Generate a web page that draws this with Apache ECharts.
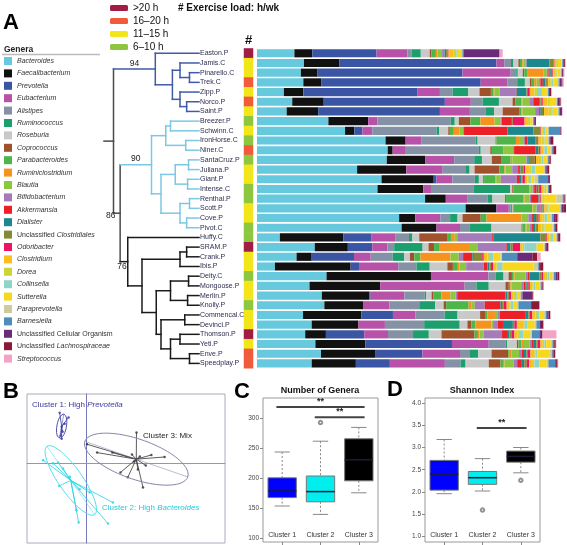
<!DOCTYPE html>
<html><head><meta charset="utf-8">
<script src="https://cdn.jsdelivr.net/npm/echarts@6.0.0/dist/echarts.min.js"></script>
<style>html,body{margin:0;padding:0;background:#fff}#chart{width:567px;height:545px}</style>
</head><body><div id="chart"></div>
<script>
// ---------- DATA ----------
const leaves = ['Easton.P','Jamis.C','Pinarello.C','Trek.C','Zipp.P','Norco.P','Saint.P','Breezer.P','Schwinn.C','IronHorse.C','Niner.C','SantaCruz.P','Juliana.P','Giant.P','Intense.C','Renthal.P','Scott.P','Cove.P','Pivot.C','Huffy.C','SRAM.P','Crank.P','Ibis.P','Deity.C','Mongoose.P','Merlin.P','Knolly.P','Commencal.C','Devinci.P','Thomson.P','Yeti.P','Enve.P','Speedplay.P'];
const leafCluster = [1,1,1,1,1,1,1, 2,2,2,2,2,2,2,2,2,2,2,2, 3,3,3,3,3,3,3,3,3,3,3,3,3,3];
// exercise load class: 1 = 6–10 h, 2 = 11–15 h, 3 = 16–20 h, 4 = >20 h
const exerciseLoad = [4,2,2,3,2,3,2,1,2,1,3,1,2,2,1,1,2,2,1,1,4,2,2,1,2,2,1,2,2,4,2,3,3];
const loadLabels = ['6–10 h','11–15 h','16–20 h','>20 h'];
// dendrogram: [height, left, right, bootstrap support]
const tree = [0.9,
  [0.46, 0, [0.28, [0.2, 1, [0.1, 2, 3]], [0.2, 4, [0.13, 5, 6]]], 94],
  [0.83,
    [0.5, [0.35, [0.3, 7, 8], [0.14, 9, 10]], [0.4, [0.25, [0.11, 11, 12], [0.12, 13, 14]], [0.2, [0.1, 15, 16], [0.13, 17, 18]]], 90],
    [0.75, 19, [0.6, [0.2, [0.13, 20, 21], 22], [0.45, [0.3, [0.11, 23, 24], [0.12, 25, 26]], [0.4, [0.15, 27, 28], [0.3, [0.2, 29, 30], [0.1, 31, 32]]]]], 76],
  86]];
const treeTop = 1.0;

const genera = ['Bacteroides','Faecalibacterium','Prevotella','Eubacterium','Alistipes','Ruminococcus','Roseburia','Coprococcus','Parabacteroides','Ruminiclostridium','Blautia','Bifidobacterium','Akkermansia','Dialister','Unclassified Clostridiales','Odoribacter','Clostridium','Dorea','Collinsella','Sutterella','Paraprevotella','Barnesiella','Unclassified Cellular Organism','Unclassified Lachnospiraceae','Streptococcus'];
// relative abundance (%) per sample, in leaf order
const bacteroides = [12.1,15.2,14.2,15,8.7,11.4,9.6,23.1,28.5,41.6,42.3,42,32.4,40.3,39,54.4,67.5,46,46.8,7.4,18.7,12.8,5.8,22.5,17,21,21.8,14.9,17.7,15.6,18.9,20.7,17.7];
const faecalibacterium = [5.8,11.4,5.4,5.9,6.3,10.2,10.2,12.9,3,6.5,1.6,12.4,15.9,16.9,14.8,6.7,10,5.2,11.3,20.5,10.7,4.9,24.5,33.8,22.9,15.3,12.5,18.9,15.1,6.7,16.2,17.5,14.3];
const prevotella = [20.8,50.9,46.9,51.5,37,39.2,39.4,0,2.6,0,0,0,0,0.9,0,0,0,0,0,9.2,7.9,13.7,2.7,0,0,0.5,0,10.2,0,12.4,28,15.3,11];
const eubacterium = [10,2.5,15.6,8.7,7.2,8.4,9.7,3,3.2,5.2,4,9.4,11.8,5.1,2.5,7.1,4,8.1,7.6,7.6,4.9,5.4,12.7,18.6,27.3,10.9,8.5,7.2,8.6,7.7,11.9,12.2,17.8];
const alistipes = [1.3,2.2,1.8,3.1,4.1,3.8,5.2,23.7,20.8,17.5,23.9,6.5,7.3,7.3,13.9,6.5,0.6,3.2,3.2,4.5,2.2,7.1,5.9,2.4,3.8,6.5,9.7,9.5,12.7,8.1,5.4,3,5.1];
const ruminococcus = [3,0.8,0.5,2.5,5.1,5.3,2.6,1.3,0.8,0.6,0.6,2.5,1.4,1.3,11.7,1.5,0.4,2.4,7,1.1,9.2,3.7,4.3,2.5,4,0.5,5.2,4.2,11.5,5.1,0.5,2.9,1.6];
const roseburia = [2.9,1.6,1.6,1.6,3.6,4.4,2.8,1.3,3,5.8,3.1,3.2,1.6,1.4,0.7,4.1,0.3,1.6,9.7,2.2,1.9,1.9,5.7,1.6,5.4,1.8,2.7,7.3,2.5,4.1,3.2,4.3,7.5];
const coprococcus = [0.5,0.5,0.5,0.6,3.7,1,5.3,3.8,0.5,0.3,0.5,3.2,8.1,0.3,0.3,0.3,0.2,5.9,0.3,9,1.8,1.4,1.8,1.1,1.1,0.5,0.8,1.6,1.3,10.7,0.5,5.4,3.8];
const parabacteroides = [1.5,0.8,0.9,0.8,0.9,1.9,0.8,3.2,1.3,6.3,3.6,2.9,1.6,3.6,5.2,5.7,6,1.9,1,1.5,1.6,2,1.6,0.6,0.5,2.7,7.3,0.8,1.3,1.1,1,0.5,0.8];
const ruminiclostridium = [0.5,0.3,5.4,0.8,0.3,0.3,0.3,4.6,1.9,1,0.3,0.5,0.3,0.3,0.3,0.3,0.2,11.3,0.3,1,9.7,9.7,0.5,0.3,0.3,2.9,1,2.4,5.2,0.5,0.8,0.5,0.5];
const blautia = [1.5,0.8,1,0.8,1.6,2.2,4.1,1.9,1.1,1.6,3,4.6,2.2,1.5,0.8,1.6,1.3,2.2,1,0.8,2.7,2.7,2.2,3.5,3.2,1.7,1,1,0.5,1.4,1.8,2.5,2.9];
const bifidobacterium = [0.8,0.3,0.5,0.4,5.2,1.3,1.3,0.4,0.3,0.3,0.3,0.3,1.9,5.2,0.5,0.5,1.3,1,0.8,11.3,9.4,1.4,5.7,0.8,0.8,0.5,3.2,0.6,1.6,5.9,0.8,0.8,1.2];
const akkermansia = [0,0,0.3,0.8,0.3,1.9,0.4,3,14,0.8,7,0.3,0.3,1,0.8,2.4,0.3,0.5,0.3,0.5,0.5,3,1.2,0.5,0.5,15.6,5.1,8.4,1.6,1.6,0.6,0.8,1.5];
const dialister = [0.5,7.3,0.5,0.8,3.2,0.4,0.5,0.3,8.4,2.7,0.8,0.5,0.5,0.5,0.5,0.3,0.3,1,0.8,15.1,0.8,0.5,0.6,3.2,0.5,0.6,0.5,0.8,3.2,0.8,0.8,0.8,0.8];
const unclClostridiales = [0.5,1.4,0.5,0.5,0.5,0.5,0.4,0.3,2.4,0.5,0.3,1.6,1,0.3,0.3,0.3,0.3,0.8,0.5,1.6,0.8,2.7,0.5,0.8,0.5,0.5,0.5,0.5,0.5,0.8,0.5,0.5,0.8];
const odoribacter = [0.3,0.3,0.3,0.3,0.6,0.3,0.3,3.8,0.2,0.4,0.5,0.4,0.5,0.8,0.8,0.3,0.3,0.4,0.3,0.5,2.4,0.5,0.8,0.5,0.5,0.8,1,0.8,0.8,0.8,0.8,0.8,0.8];
const clostridium = [1.5,0.5,0.8,0.8,1.5,1.5,1.5,0.8,0.5,1,0.8,1.3,1.5,0.8,0.5,0.3,0.5,1,1.2,0.8,0.8,1.2,1,0.8,0.8,0.8,0.8,1,2,1,0.8,1.2,1.2];
const dorea = [1,0.3,0.3,0.5,0.8,0.5,0.8,0.6,0.4,0.5,0.4,0.5,0.6,0.5,0.5,0.3,0.4,0.6,0.5,0.5,0.5,0.8,0.5,0.5,0.4,0.4,0.5,0.5,0.5,0.5,0.5,0.5,0.5];
const collinsella = [0.5,0.3,0.2,0.5,1.6,0.3,0.5,0.4,0.5,0.5,1,0.5,1.2,0.8,0.5,0.3,0.5,0.8,0.5,0.8,4,1,1.5,0.6,0.5,0.6,0.8,0.8,0.8,1.5,0.6,0.6,1.5];
const sutterella = [1,1.2,1,1.2,1.6,2,1.5,0.8,0.6,0.8,1,1.2,2.5,1,0.3,4,3.7,1,2.5,0.8,2.2,2.4,10,1,1.5,1,1.2,1.5,2.5,2.2,1.5,4,2.5];
const paraprevotella = [0.5,0.2,0.3,0.5,0.4,0.3,0.4,0.2,0.4,0.5,0.4,0.3,0.6,1.2,0.3,2,0.2,0.6,0.5,0.4,0.5,0.5,1.5,0.5,0.3,0.4,0.5,0.5,0.5,0.5,0.5,0.6,0.5];
const barnesiella = [0.3,0.3,0.2,0.4,0.3,0.3,0.3,0.3,3.7,0.4,0.3,0.3,0.4,3.2,0.3,0.3,0.3,0.5,0.3,0.3,0.3,4.9,0.3,0.5,0.3,0.4,4.1,0.5,1,2.4,0.3,0.3,2.2];
const unclCellular = [11.7,0.3,0.3,0.5,0.3,0.6,0.5,0.3,0.2,0.3,0.3,0.3,0.3,0.3,0.3,0.3,0.5,0.5,0.3,0.3,0.3,4.9,0.3,0.6,0.3,3.2,0.3,0.5,0.5,0.5,0.3,0.3,0.3];
const unclLachno = [0,0.3,0.2,0.4,0.4,0.3,0.3,0.3,0.2,0.8,0.8,0.4,0.6,0.3,0.5,0.3,1,0.8,0.5,0.4,0.5,1.6,1,0.6,0.3,0.3,2.4,0.5,0.8,0.5,0.5,0.5,0.5];
const streptococcus = [1,0.2,0.3,0.4,0.3,0.2,0.2,0,0.1,0.2,0.1,0.1,0.2,0.1,0.1,0.3,0.2,0.3,0.2,0.2,0.2,1.1,0.2,0.3,0.1,0.1,0.1,0.2,0.2,4.5,0.2,0.2,0.2];
const abundance = [bacteroides,faecalibacterium,prevotella,eubacterium,alistipes,ruminococcus,roseburia,coprococcus,parabacteroides,ruminiclostridium,blautia,bifidobacterium,akkermansia,dialister,unclClostridiales,odoribacter,clostridium,dorea,collinsella,sutterella,paraprevotella,barnesiella,unclCellular,unclLachno,streptococcus];

// Panel B: ordination scores per cluster, spider centres, ellipses [cx, cy, a, b, angle°]
const cluster1Scores = [[-0.135,0.255],[-0.09,0.232],[-0.11,0.2],[-0.125,0.185],[-0.12,0.16],[-0.13,0.14],[-0.125,0.125]];
const cluster2Scores = [[-0.219,0.017],[-0.169,0.002],[-0.143,0.005],[-0.118,-0.025],[-0.084,-0.067],[-0.138,-0.113],[-0.034,-0.129],[0.017,-0.146],[0.134,-0.196],[-0.05,-0.235],[-0.039,-0.297],[0.109,-0.302]];
const cluster3Scores = [[0.003,0.097],[0.054,0.055],[0.131,0.055],[0.328,0.043],[0.395,0.033],[0.172,-0.045],[0.286,-0.121],[0.253,0.156],[0.209,-0.069],[0.24,0.01],[0.27,0.035],[0.23,0.045],[0.3,-0.01],[0.26,-0.03]];
const clusterEllipses = [[-0.125,0.188,0.062,0.024,80],[-0.079,-0.085,0.21,0.06,-55],[0.252,0.022,0.275,0.101,-19]];

// Panels C & D: [min, Q1, median, Q3, max]
const clusterNames = ['Cluster 1','Cluster 2','Cluster 3'];
const generaCountBoxes = [[153,167,178,200,243],[139,160,177,203,261],[175,195,230,265,284]];
const generaCountOutliers = [[1,292]];
const generaCountSig = [[0,2,318,'**'],[1,2,301,'**']];
const generaCountTicks = [100,150,200,250,300];
const shannonBoxes = [[1.96,2.04,2.40,2.71,3.18],[2.02,2.17,2.32,2.46,2.75],[2.43,2.67,2.80,2.92,3.00]];
const shannonOutliers = [[1,1.59],[2,2.26]];
const shannonSig = [[1,2,3.44,'**']];
const shannonTicks = [1.0,1.5,2.0,2.5,3.0,3.5,4.0];

// ---------- STYLE ----------
const FONT = 'Liberation Sans, Arial, Helvetica, sans-serif';
const generaColors = ['#67C9DD','#111111','#3B55A5','#B752A8','#8592A6','#1C9F6C','#C9C9C9','#A0522D','#4DB54A','#F6931E','#8DC63F','#A57BBA','#EC2027','#1A888C','#858A36','#EB1563','#FCC01E','#CDD43A','#8FD4C8','#F8D81C','#CFCB9E','#4F8DBA','#6A2C79','#8B1A3A','#F3A3C6'];
const loadColors = ['#8DC63F','#F2E61B','#F15A3A','#A01D45'];
const treeColors = ['#4a4a4a','#3F5BAA','#7CC8E4','#1a1a1a'];
const bPointColors = ['#3535A5','#22D3E3','#333333'];
const bEllipseColors = ['#5050AA','#55DDEE','#8585AA'];
const boxFill = ['#0000FF','#00EEEE','#000000'];

// ---------- DERIVED GEOMETRY ----------
const treeSegs = [], supports = [];
function lay(node){
  if (typeof node === 'number') return {y: node, h: 0, c: leafCluster[node]};
  const h = node[0], a = lay(node[1]), b = lay(node[2]);
  const c = a.c === b.c ? a.c : 0;
  treeSegs.push([h, a.y, h, b.y, c]);
  treeSegs.push([a.h, a.y, h, a.y, a.c]);
  treeSegs.push([b.h, b.y, h, b.y, b.c]);
  [a, b].forEach(ch => { if (ch.s) supports.push([(ch.h + h) / 2, ch.y, ch.s]); });
  return {y: (a.y + b.y) / 2, h, c, s: node[3]};
}
const rootNode = lay(tree);
treeSegs.push([rootNode.h, rootNode.y, treeTop, rootNode.y, 0]);
const supportOffsets = {94: [0, -5], 90: [0, -6], 86: [-6, 2], 76: [-2, 5]};

function ellipsePoints(p){
  const [cx, cy, a, b, deg] = p, t = deg * Math.PI / 180, pts = [];
  for (let k = 0; k <= 90; k++) {
    const u = k / 90 * 2 * Math.PI, x = a * Math.cos(u), y = b * Math.sin(u);
    pts.push([cx + x * Math.cos(t) - y * Math.sin(t), cy + x * Math.sin(t) + y * Math.cos(t)]);
  }
  return pts;
}
function majorAxis(p){
  const [cx, cy, a, , deg] = p, t = deg * Math.PI / 180;
  return [[cx - a * Math.cos(t), cy - a * Math.sin(t)], [cx + a * Math.cos(t), cy + a * Math.sin(t)]];
}

// ---------- OPTION ----------
const rowTop = 48.45, rowH = 319.8;
const series = [];
series.push({type: 'heatmap', xAxisIndex: 1, yAxisIndex: 2, data: exerciseLoad.map((v, i) => [0, i, v]), silent: true});

series.push({type: 'custom', xAxisIndex: 0, yAxisIndex: 0, silent: true, clip: false,
  encode: {x: [0, 2], y: [1, 3]}, data: treeSegs,
  renderItem(params, api){
    const p1 = api.coord([api.value(0), api.value(1)]), p2 = api.coord([api.value(2), api.value(3)]);
    return {type: 'line', shape: {x1: p1[0], y1: p1[1], x2: p2[0], y2: p2[1]},
      style: {stroke: treeColors[api.value(4)], lineWidth: 1.5, lineCap: 'square'}};
  }});
series.push({type: 'custom', xAxisIndex: 0, yAxisIndex: 0, silent: true, clip: false,
  encode: {x: 0, y: 1}, data: supports.map(s => [s[0], s[1]]),
  renderItem(params, api){
    const s = supports[params.dataIndex], p = api.coord([s[0], s[1]]), off = supportOffsets[s[2]] || [0, -5];
    return {type: 'text', x: p[0] + off[0], y: p[1] + off[1],
      style: {text: String(s[2]), fill: '#222', font: '8.5px ' + FONT, align: 'center', verticalAlign: 'middle'}};
  }});

genera.forEach((g, k) => {
  series.push({type: 'bar', name: g, stack: 'genera', xAxisIndex: 2, yAxisIndex: 3,
    data: abundance[k], barCategoryGap: '16%', itemStyle: {color: generaColors[k]}, silent: true});
});

[cluster1Scores, cluster2Scores, cluster3Scores].forEach((pts, k) => {
  const e = clusterEllipses[k];
  series.push({type: 'line', xAxisIndex: 3, yAxisIndex: 4, data: ellipsePoints(e), symbol: 'none',
    lineStyle: {color: bEllipseColors[k], width: 1}, silent: true});
  series.push({type: 'line', xAxisIndex: 3, yAxisIndex: 4, data: majorAxis(e), symbol: 'none',
    lineStyle: {color: bEllipseColors[k], width: 0.8, opacity: 0.7}, silent: true});
  series.push({type: 'custom', xAxisIndex: 3, yAxisIndex: 4, silent: true,
    encode: {x: [0, 2], y: [1, 3]}, data: pts.map(p => [p[0], p[1], e[0], e[1]]),
    renderItem(params, api){
      const p1 = api.coord([api.value(0), api.value(1)]), p2 = api.coord([api.value(2), api.value(3)]);
      return {type: 'line', shape: {x1: p1[0], y1: p1[1], x2: p2[0], y2: p2[1]},
        style: {stroke: bPointColors[k], lineWidth: 0.8}};
    }});
  series.push({type: 'scatter', xAxisIndex: 3, yAxisIndex: 4, data: pts, symbolSize: 2.5,
    itemStyle: {color: bPointColors[k]}, silent: true});
});

function boxRenderer(params, api){
  const i = api.value(0), band = api.size([1, 0])[0], w = band * 0.74, cw = band * 0.4;
  const cx = api.coord([i, api.value(3)])[0];
  const y = v => api.coord([i, v])[1];
  const yMin = y(api.value(1)), yQ1 = y(api.value(2)), yMed = y(api.value(3)), yQ3 = y(api.value(4)), yMax = y(api.value(5));
  const dash = {stroke: '#888', lineWidth: 1, lineDash: [2, 2]}, solid = {stroke: '#888', lineWidth: 1};
  return {type: 'group', children: [
    {type: 'line', shape: {x1: cx, y1: yMax, x2: cx, y2: yQ3}, style: dash},
    {type: 'line', shape: {x1: cx, y1: yQ1, x2: cx, y2: yMin}, style: dash},
    {type: 'line', shape: {x1: cx - cw / 2, y1: yMax, x2: cx + cw / 2, y2: yMax}, style: solid},
    {type: 'line', shape: {x1: cx - cw / 2, y1: yMin, x2: cx + cw / 2, y2: yMin}, style: solid},
    {type: 'rect', shape: {x: cx - w / 2, y: yQ3, width: w, height: yQ1 - yQ3}, style: {fill: boxFill[i], stroke: '#777', lineWidth: 1}},
    {type: 'line', shape: {x1: cx - w / 2, y1: yMed, x2: cx + w / 2, y2: yMed}, style: {stroke: '#1a1a3a', lineWidth: 1.5}}
  ]};
}
function sigRenderer(list){
  return function(params, api){
    const s = list[params.dataIndex], band = api.size([1, 0])[0];
    const p1 = api.coord([s[0], s[2]]), p2 = api.coord([s[1], s[2]]);
    const x1 = p1[0] - band * 0.15, x2 = p2[0] + band * 0.15;
    return {type: 'group', children: [
      {type: 'line', shape: {x1, y1: p1[1], x2, y2: p1[1]}, style: {stroke: '#444', lineWidth: 2}},
      {type: 'text', x: (x1 + x2) / 2, y: p1[1] - 1, style: {text: s[3], fill: '#222', font: 'bold 9px ' + FONT, align: 'center', verticalAlign: 'bottom'}}
    ]};
  };
}
[[generaCountBoxes, generaCountOutliers, generaCountSig, 4, 5], [shannonBoxes, shannonOutliers, shannonSig, 5, 6]].forEach(([boxes, outl, sig, xi, yi]) => {
  series.push({type: 'custom', xAxisIndex: xi, yAxisIndex: yi, silent: true, encode: {x: 0, y: [1, 2, 3, 4, 5]},
    data: boxes.map((b, i) => [i].concat(b)), renderItem: boxRenderer});
  series.push({type: 'scatter', xAxisIndex: xi, yAxisIndex: yi, data: outl, symbol: 'emptyCircle', symbolSize: 3.5,
    itemStyle: {color: '#777', borderWidth: 0.8}, silent: true});
  series.push({type: 'custom', xAxisIndex: xi, yAxisIndex: yi, silent: true, clip: false, encode: {x: [0, 1], y: 2},
    data: sig.map(s => [s[0], s[1], s[2]]), renderItem: sigRenderer(sig)});
});

const hidden = {show: false};
const clusterXAxis = gi => ({gridIndex: gi, type: 'category', data: clusterNames, boundaryGap: true,
  axisLine: hidden, axisTick: {show: true, alignWithLabel: true, length: 3, lineStyle: {color: '#888'}},
  axisLabel: {inside: true, margin: 3, fontSize: 7, color: '#333', fontFamily: FONT}, splitLine: hidden});

const option = {
  animation: false,
  backgroundColor: '#fff',
  textStyle: {fontFamily: FONT},
  title: [
    {text: 'A', left: 3, top: 12, padding: 0, textStyle: {fontSize: 22, fontWeight: 'bold', color: '#000'}},
    {text: '# Exercise load: h/wk', left: 178, top: 3, padding: 0, textStyle: {fontSize: 10, fontWeight: 'bold', color: '#111'}},
    {text: 'Genera', left: 4, top: 45, padding: 0, textStyle: {fontSize: 8.5, fontWeight: 'bold', color: '#222'}},
    {text: 'B', left: 3, top: 381, padding: 0, textStyle: {fontSize: 22, fontWeight: 'bold', color: '#000'}},
    {text: 'C', left: 234, top: 381, padding: 0, textStyle: {fontSize: 22, fontWeight: 'bold', color: '#000'}},
    {text: 'D', left: 387, top: 379, padding: 0, textStyle: {fontSize: 22, fontWeight: 'bold', color: '#000'}},
    {text: 'Number of Genera', left: 320, textAlign: 'center', top: 386, padding: 0, textStyle: {fontSize: 9, fontWeight: 'bold', color: '#111'}},
    {text: 'Shannon Index', left: 482, textAlign: 'center', top: 386, padding: 0, textStyle: {fontSize: 9, fontWeight: 'bold', color: '#111'}}
  ],
  legend: {
    data: genera, orient: 'vertical', left: 4, top: 57, padding: 0, itemWidth: 8, itemHeight: 8, itemGap: 4.4,
    icon: 'rect', selectedMode: false,
    textStyle: {fontSize: 7, color: '#333', lineHeight: 8,
      rich: {n: {fontSize: 7, fontStyle: 'normal', color: '#333', lineHeight: 8}, i: {fontSize: 7, fontStyle: 'italic', color: '#333', lineHeight: 8}}},
    formatter: name => {
      if (name === 'Unclassified Cellular Organism') return '{n|' + name + '}';
      if (name.indexOf('Unclassified ') === 0) return '{n|Unclassified }{i|' + name.slice(13) + '}';
      return '{i|' + name + '}';
    }
  },
  visualMap: {
    type: 'piecewise', seriesIndex: 0, dimension: 2, orient: 'vertical', left: 110, top: 3, padding: 0,
    itemWidth: 18, itemHeight: 6, itemGap: 3, itemSymbol: 'roundRect', textGap: 5, selectedMode: false,
    textStyle: {fontSize: 10, color: '#111', lineHeight: 6},
    pieces: loadLabels.map((l, i) => ({value: i + 1, label: l, color: loadColors[i]}))
  },
  graphic: [
    {type: 'line', shape: {x1: 2, y1: 54.5, x2: 100, y2: 54.5}, style: {stroke: '#bbb', lineWidth: 1.5}, silent: true},
    {type: 'text', left: 32, top: 401, silent: true, style: {text: '{n|Cluster 1: High }{i|Prevotella}',
      rich: {n: {fontSize: 8, fill: '#3A3AA0', fontFamily: FONT}, i: {fontSize: 8, fontStyle: 'italic', fill: '#3A3AA0', fontFamily: FONT}}}},
    {type: 'text', left: 143, top: 432, silent: true, style: {text: 'Cluster 3: Mix', fontSize: 8, fill: '#222', fontFamily: FONT}},
    {type: 'text', left: 102, top: 504, silent: true, style: {text: '{n|Cluster 2: High }{i|Bacteroides}',
      rich: {n: {fontSize: 8, fill: '#22CCDD', fontFamily: FONT}, i: {fontSize: 8, fontStyle: 'italic', fill: '#22CCDD', fontFamily: FONT}}}}
  ],
  grid: [
    {left: 104, top: rowTop, width: 95, height: rowH, outerBoundsMode: 'none'},
    {left: 244, top: rowTop, width: 9, height: rowH, outerBoundsMode: 'none'},
    {left: 257, top: rowTop, width: 309, height: rowH, outerBoundsMode: 'none'},
    {left: 27, top: 394, width: 198, height: 149, show: true, borderColor: '#aab', borderWidth: 1, outerBoundsMode: 'none'},
    {left: 263, top: 398, width: 115, height: 144, show: true, borderColor: '#999', borderWidth: 1, outerBoundsMode: 'none'},
    {left: 425, top: 398, width: 115, height: 144, show: true, borderColor: '#999', borderWidth: 1, outerBoundsMode: 'none'}
  ],
  xAxis: [
    {gridIndex: 0, type: 'value', min: 0, max: treeTop, inverse: true, show: false},
    {gridIndex: 1, type: 'category', data: ['#'], position: 'top', axisLine: hidden, axisTick: hidden,
      axisLabel: {fontSize: 13, fontWeight: 'bold', color: '#111', margin: 2}, splitLine: hidden},
    {gridIndex: 2, type: 'value', min: 0, max: 100, show: false},
    {gridIndex: 3, type: 'value', min: -0.3, max: 0.7, axisLine: {onZero: true, lineStyle: {color: '#999', width: 1}},
      axisTick: hidden, axisLabel: hidden, splitLine: hidden},
    clusterXAxis(4),
    clusterXAxis(5)
  ],
  yAxis: [
    {gridIndex: 0, type: 'value', min: -0.5, max: leaves.length - 0.5, inverse: true, show: false},
    {gridIndex: 0, type: 'category', data: leaves, inverse: true, position: 'right', axisLine: hidden, axisTick: hidden,
      axisLabel: {fontSize: 7, color: '#2d2d50', margin: 1, interval: 0}, splitLine: hidden},
    {gridIndex: 1, type: 'category', data: leaves, inverse: true, show: false},
    {gridIndex: 2, type: 'category', data: leaves, inverse: true, show: false},
    {gridIndex: 3, type: 'value', min: -0.4, max: 0.35, axisLine: {onZero: true, lineStyle: {color: '#7777BB', width: 1}},
      axisTick: hidden, axisLabel: hidden, splitLine: hidden},
    {gridIndex: 4, type: 'value', min: 93, max: 333, axisLine: hidden, splitLine: hidden,
      axisTick: {show: true, length: 3, customValues: generaCountTicks, lineStyle: {color: '#888'}},
      axisLabel: {fontSize: 6.5, color: '#444', margin: 4, customValues: generaCountTicks}},
    {gridIndex: 5, type: 'value', min: 0.872, max: 4.115, axisLine: hidden, splitLine: hidden,
      axisTick: {show: true, length: 3, customValues: shannonTicks, lineStyle: {color: '#888'}},
      axisLabel: {fontSize: 6.5, color: '#444', margin: 4, customValues: shannonTicks, formatter: v => v.toFixed(1)}}
  ],
  series
};
const chart = echarts.init(document.getElementById('chart'), null, {renderer: 'canvas'});
chart.setOption(option);
</script></body></html>
